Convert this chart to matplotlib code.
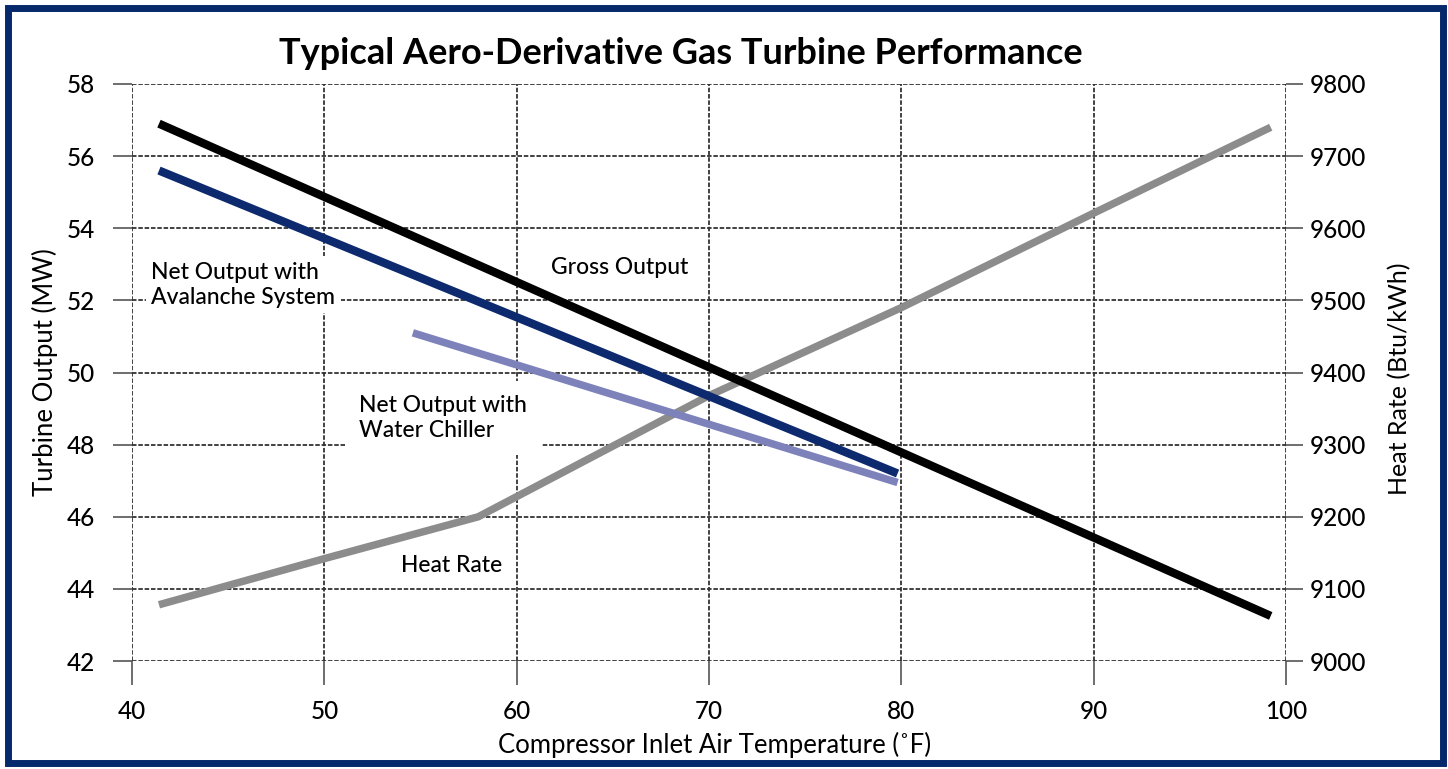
import matplotlib
matplotlib.use("Agg")
import matplotlib.pyplot as plt
from matplotlib.patches import Rectangle

plt.rcParams['font.family'] = ['Lato', 'DejaVu Sans']
plt.rcParams['font.weight'] = 'medium'

# Compressor inlet temperature (F)
gross_temp = [41.4, 99.2]
gross_mw = [56.9, 43.25]

avalanche_temp = [41.4, 79.8]
avalanche_mw = [55.6, 47.2]

chiller_temp = [54.6, 79.8]
chiller_mw = [51.1, 46.95]

heat_temp = [41.4, 50, 58, 60, 70, 80, 90, 99.2]
heat_rate = [9078, 9142, 9200, 9228, 9368, 9490, 9621, 9740]

x_ticks = [40, 50, 60, 70, 80, 90, 100]
mw_ticks = [42, 44, 46, 48, 50, 52, 54, 56, 58]
hr_ticks = [9000, 9100, 9200, 9300, 9400, 9500, 9600, 9700, 9800]

fig = plt.figure(figsize=(14.48, 7.69), dpi=100)
ax = fig.add_axes([0.0912, 0.1404, 0.7970, 0.7504])
ax2 = ax.twinx()

ax.set_xlim(40, 100)
ax.set_ylim(42, 58)
ax2.set_ylim(9000, 9800)
ax.set_xticks(x_ticks)
ax.set_yticks(mw_ticks)
ax2.set_yticks(hr_ticks)

for a in (ax, ax2):
    for s in a.spines.values():
        s.set_visible(False)

ax.set_axisbelow(True)
ax.grid(True, color='#333333', linestyle=(0, (2.5, 1.0)), linewidth=1.3)

ax.tick_params(axis='y', length=14, width=1.2, color='#555555', pad=13, labelsize=17.5)
ax.tick_params(axis='x', length=17, width=1.2, color='#555555', pad=11, labelsize=17.5)
ax2.tick_params(axis='y', length=12, width=1.2, color='#555555', pad=5, labelsize=17.5)

# heat rate drawn in ax with the right-hand scale so it sits under the other lines
ax.plot(heat_temp, heat_rate, color='#8c8c8c', linewidth=5.4,
        solid_capstyle='butt', transform=ax2.transData, zorder=2)
ax.plot(chiller_temp, chiller_mw, color='#7d82bb', linewidth=5.4,
        solid_capstyle='butt', zorder=3)
ax.plot(avalanche_temp, avalanche_mw, color='#0d2a6e', linewidth=6,
        solid_capstyle='butt', zorder=4)
ax.plot(gross_temp, gross_mw, color='#000000', linewidth=6,
        solid_capstyle='butt', zorder=5)

box = dict(facecolor='white', edgecolor='none', pad=4)
ax.text(41.0, 52.43, 'Net Output with\nAvalanche System', fontsize=16.5,
        ha='left', va='center', linespacing=1.25, bbox=box, zorder=6)
ax.text(61.8, 52.9, 'Gross Output', fontsize=16.5, ha='left', va='center',
        bbox=box, zorder=6)
ax.text(51.8, 48.74, 'Net Output with\nWater Chiller', fontsize=16.5,
        ha='left', va='center', linespacing=1.25,
        bbox=dict(facecolor='white', edgecolor='none', pad=10), zorder=6)
ax.text(54.0, 44.66, 'Heat Rate', fontsize=16.5, ha='left', va='center',
        bbox=box, zorder=6)

ax.set_ylabel('Turbine Output (MW)', fontsize=18.5)
ax.yaxis.set_label_coords(-0.064, 0.5)
ax2.set_ylabel('Heat Rate (Btu/kWh)', fontsize=18)
ax2.yaxis.set_label_coords(1.088, 0.49)
ax.set_xlabel('Compressor Inlet Air Temperature (\u02daF)', fontsize=18.5)
ax.xaxis.set_label_coords(0.505, -0.122)

fig.text(0.470, 0.931, 'Typical Aero-Derivative Gas Turbine Performance',
         fontsize=26, fontweight='bold', ha='center', va='center')

fig.patches.append(Rectangle((0.0052, 0.0078), 0.9913, 0.9818,
                             transform=fig.transFigure, fill=False,
                             edgecolor='#06296b', linewidth=5))

fig.savefig('out.png', dpi=100)
